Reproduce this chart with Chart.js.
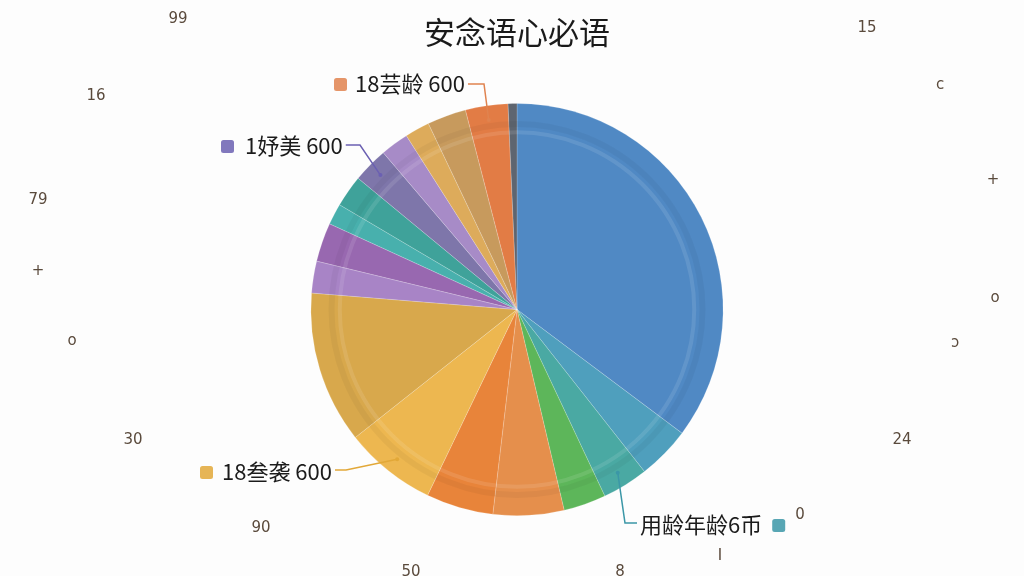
<!DOCTYPE html>
<html>
<head>
<meta charset="utf-8">
<script src="https://cdn.jsdelivr.net/npm/chart.js@4"></script>
<style>
  html, body { margin: 0; padding: 0; background: #fdfdfd; }
  #wrap { width: 1024px; height: 576px; position: relative; }
</style>
</head>
<body>
<div id="wrap"><canvas id="chart" width="1024" height="576"></canvas></div>
<script>
// slice values (degrees of the pie, clockwise from 12 o'clock)
const sliceValues = [127, 15, 13, 12, 20, 19, 26, 43, 9, 11, 6, 9, 10, 8, 7, 11, 12, 2.5];
const sliceColors = [
    '#5089c4', '#4f9fbd', '#4aa9a3', '#5db65a', '#e58f4c', '#e8843a',
    '#edb750', '#d8a84c', '#a884c6', '#9868b0', '#48b0ad', '#3fa29a',
    '#7e76aa', '#a78bc7', '#ddab5b', '#c79a5d', '#e27c45', '#5e6570'
];
const titleText = '安念语心必语';

// callouts: which slice, text, marker colour
const calloutSlices = [16, 12, 6, 2];
const calloutTexts = ['18芸龄 600', '1妤美 600', '18叁袭 600', '用龄年龄6币'];
const calloutColors = ['#e0834f', '#6b60b2', '#e2a838', '#3b97a7'];

// scattered ring labels around the pie
const ringTexts = ['99', '16', '79', '+', 'o', '30', '90', '50', '8', 'I', '0', '24', 'ɔ', 'o', '+', 'c', '15'];

// layout of the callouts (text x/y, marker x, elbow x/y)
const calloutLayout = [
    { tx: 355, ty: 84, mx: 340, ex: 484, ey: 84, side: 'left' },
    { tx: 245, ty: 146, mx: 227, ex: 360, ey: 145, side: 'left' },
    { tx: 222, ty: 472, mx: 206, ex: 346, ey: 470, side: 'left' },
    { tx: 640, ty: 525, mx: 778, ex: 625, ey: 523, side: 'right' }
];
const ringPos = [
    [178, 19], [96, 96], [38, 200], [38, 271], [72, 341], [133, 440], [261, 528],
    [411, 572], [620, 572], [720, 556], [800, 515], [902, 440], [955, 343],
    [995, 298], [993, 180], [940, 85], [867, 28]
];

const decorPlugin = {
    id: 'decor',
    afterDatasetsDraw(chart) {
        const ctx = chart.ctx;
        const arcs = chart.getDatasetMeta(0).data;
        const cx = arcs[0].x, cy = arcs[0].y, R = arcs[0].outerRadius;
        ctx.save();
        // soft rings across the pie
        ctx.beginPath();
        ctx.arc(cx, cy, R * 0.86, 0, Math.PI * 2);
        ctx.strokeStyle = 'rgba(255,255,255,0.10)';
        ctx.lineWidth = 4;
        ctx.stroke();
        ctx.beginPath();
        ctx.arc(cx, cy, R * 0.9, 0, Math.PI * 2);
        ctx.strokeStyle = 'rgba(0,0,0,0.04)';
        ctx.lineWidth = 6;
        ctx.stroke();
        ctx.restore();
    },
    afterDraw(chart) {
        const ctx = chart.ctx;
        const arcs = chart.getDatasetMeta(0).data;
        ctx.save();
        ctx.font = '22px "Noto Sans CJK SC", "Noto Sans", sans-serif';
        // callouts
        calloutSlices.forEach((si, i) => {
            const arc = arcs[si];
            const mid = (arc.startAngle + arc.endAngle) / 2;
            const r = arc.outerRadius * 0.93;
            const ax = arc.x + Math.cos(mid) * r;
            const ay = arc.y + Math.sin(mid) * r;
            const L = calloutLayout[i];
            const tw = ctx.measureText(calloutTexts[i]).width;
            ctx.strokeStyle = calloutColors[i];
            ctx.lineWidth = 1.5;
            ctx.beginPath();
            if (L.side === 'left') {
                ctx.moveTo(L.tx + tw + 3, L.ey);
            } else {
                ctx.moveTo(L.tx - 3, L.ey);
            }
            ctx.lineTo(L.ex, L.ey);
            ctx.lineTo(ax, ay);
            ctx.stroke();
            ctx.fillStyle = calloutColors[i];
            ctx.beginPath();
            ctx.arc(ax, ay, 2, 0, Math.PI * 2);
            ctx.fill();
            // marker square
            const mx = L.side === 'left' ? L.mx : Math.max(L.mx, L.tx + tw + 16);
            ctx.globalAlpha = 0.85;
            ctx.beginPath();
            ctx.roundRect(mx - 6, L.ty - 6, 13, 13, 2.5);
            ctx.fill();
            ctx.globalAlpha = 1;
            ctx.fillStyle = '#1b1b1b';
            ctx.textBaseline = 'middle';
            ctx.textAlign = 'left';
            ctx.fillText(calloutTexts[i], L.tx, L.ty);
        });
        // ring labels
        ctx.fillStyle = '#5a4a3c';
        ctx.font = '15px "DejaVu Sans", sans-serif';
        ctx.textAlign = 'center';
        ctx.textBaseline = 'middle';
        ringTexts.forEach((t, i) => ctx.fillText(t, ringPos[i][0], ringPos[i][1]));
        ctx.restore();
    }
};

new Chart(document.getElementById('chart'), {
    type: 'pie',
    data: {
        labels: sliceValues.map((_, i) => 'S' + (i + 1)),
        datasets: [{
            data: sliceValues,
            backgroundColor: sliceColors,
            borderColor: 'rgba(255,255,255,0.3)',
            borderWidth: 0.6
        }]
    },
    options: {
        responsive: false,
        animation: false,
        layout: { padding: { top: 0, bottom: 60, left: 10, right: 0 } },
        plugins: {
            legend: { display: false },
            tooltip: { enabled: false },
            title: {
                display: true,
                text: titleText,
                color: '#1a1a1a',
                font: { family: '"Noto Sans CJK SC", sans-serif', size: 31, weight: 'normal' },
                padding: { top: 14, bottom: 52 }
            }
        }
    },
    plugins: [decorPlugin]
});
</script>
</body>
</html>
